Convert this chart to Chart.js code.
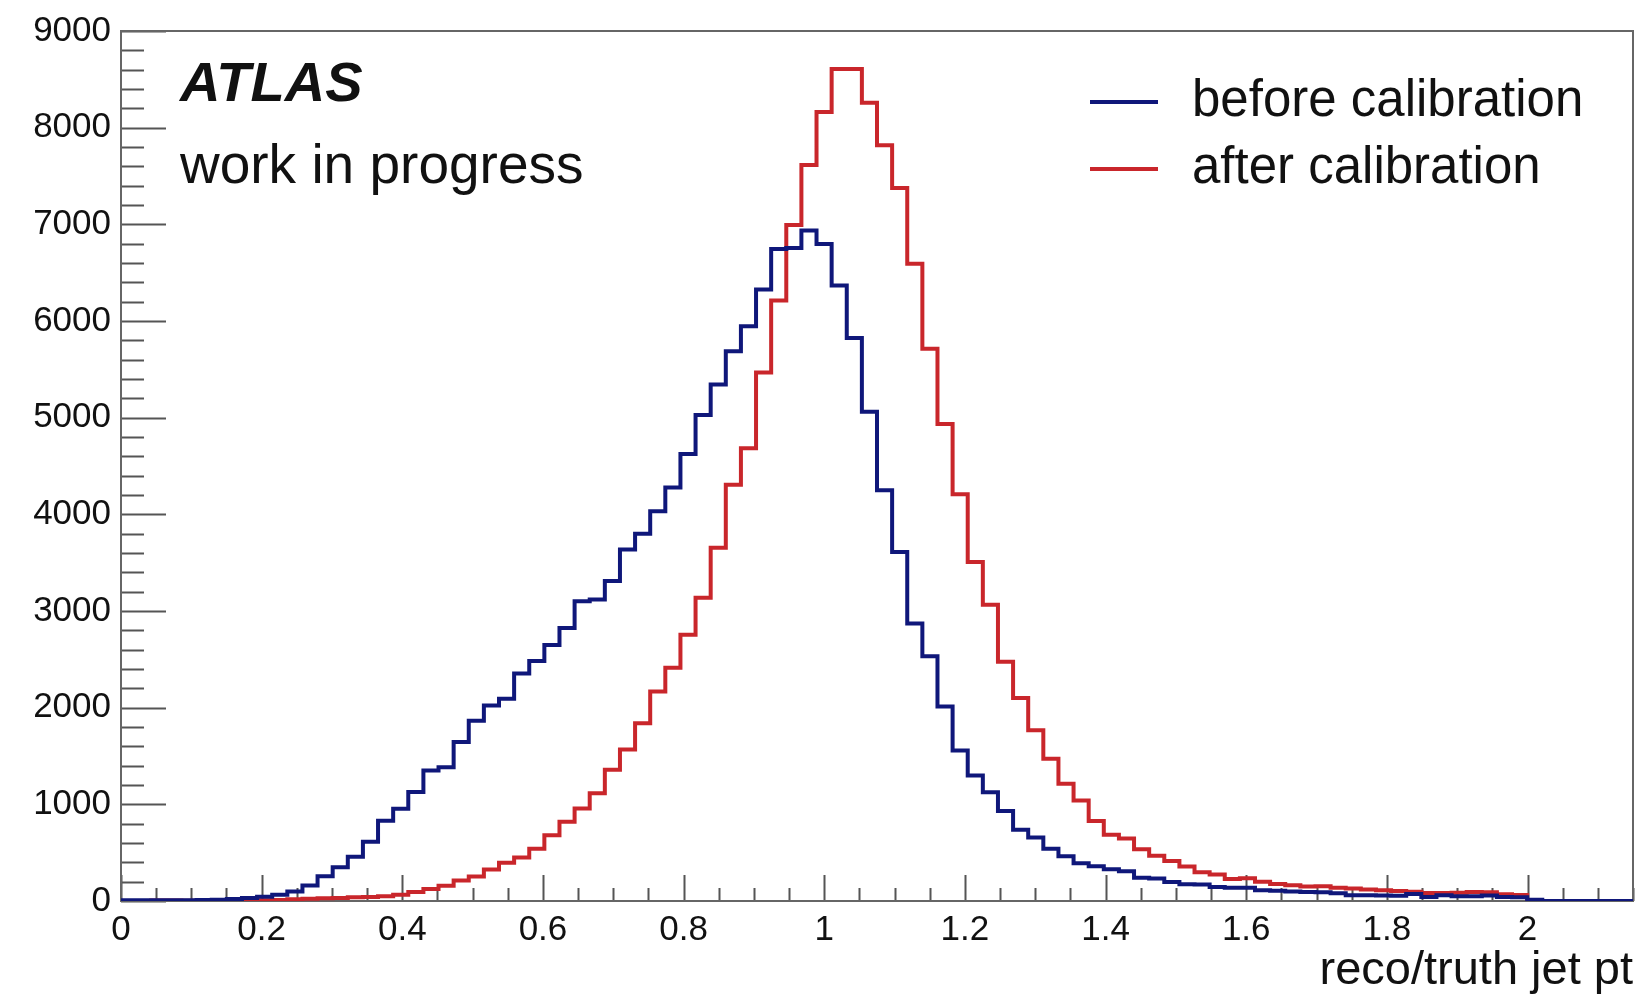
<!DOCTYPE html>
<html>
<head>
<meta charset="utf-8">
<title>reco/truth jet pt</title>
<script src="https://cdn.jsdelivr.net/npm/chart.js"></script>
<style>
  html, body { margin: 0; padding: 0; background: #fff; }
  #wrap { width: 1639px; height: 995px; }
</style>
</head>
<body>
<div id="wrap"><canvas id="chart"></canvas></div>
<script>
// 100 equal bins between 0 and 2.15
const binLow = 0;
const binHigh = 2.15;
const nBins = 100;

// entries per bin
const beforeCalibration = [
  8, 8, 8, 8, 8, 10, 12, 20, 30, 45,
  65, 98, 160, 255, 350, 457, 613, 830, 955, 1128,
  1350, 1383, 1645, 1865, 2022, 2091, 2353, 2482, 2649, 2823,
  3102, 3120, 3311, 3635, 3799, 4032, 4278, 4624, 5028, 5344,
  5687, 5945, 6326, 6746, 6756, 6935, 6797, 6368, 5825, 5062,
  4248, 3610, 2870, 2532, 2013, 1558, 1299, 1126, 931, 736,
  658, 541, 463, 390, 360, 328, 308, 240, 234, 197,
  172, 170, 145, 138, 137, 112, 105, 98, 94, 90,
  80, 60, 60, 58, 55, 72, 42, 60, 50, 48,
  56, 42, 40, 12, 0, 0, 0, 0, 0, 0
];
const afterCalibration = [
  0, 0, 5, 5, 3, 3, 3, 5, 5, 8,
  10, 18, 24, 28, 32, 38, 42, 50, 65, 92,
  125, 158, 212, 254, 327, 395, 450, 540, 680, 819,
  958, 1115, 1359, 1568, 1840, 2168, 2412, 2754, 3137, 3655,
  4306, 4684, 5467, 6213, 6993, 7615, 8161, 8608, 8608, 8258,
  7818, 7375, 6591, 5714, 4935, 4208, 3506, 3065, 2476, 2100,
  1766, 1472, 1212, 1039, 828, 685, 646, 535, 468, 413,
  357, 297, 275, 228, 235, 200, 177, 162, 150, 153,
  138, 129, 120, 110, 103, 96, 82, 82, 86, 93,
  91, 70, 63, 0, 0, 0, 0, 0, 0, 0
];

const xTicks = [0, 0.2, 0.4, 0.6, 0.8, 1, 1.2, 1.4, 1.6, 1.8, 2];
const yTicks = [0, 1000, 2000, 3000, 4000, 5000, 6000, 7000, 8000, 9000];

const FONT = "'Liberation Sans', Arial, Helvetica, sans-serif";
const BLUE = '#0f177a';
const RED = '#c9262b';

// turn bin contents into left-edge points plus a closing point at the upper edge
function histPoints(values) {
  const w = (binHigh - binLow) / nBins;
  const pts = values.map((v, i) => ({ x: binLow + i * w, y: v }));
  pts.push({ x: binHigh, y: values[values.length - 1] });
  return pts;
}

// frame with inward major/minor ticks, ROOT style
const frameTicks = {
  id: 'frameTicks',
  beforeDatasetsDraw(chart) {
    const { ctx, chartArea: a, scales: { x, y } } = chart;
    ctx.save();
    ctx.strokeStyle = '#555';
    ctx.lineWidth = 2;
    ctx.beginPath();
    for (let v = 0; v <= 9000; v += 200) {
      const py = Math.round(y.getPixelForValue(v)) + 0.5;
      const len = v % 1000 === 0 ? 45 : 23;
      ctx.moveTo(a.left, py);
      ctx.lineTo(a.left + len, py);
    }
    for (let k = 0; k * 0.05 <= binHigh + 1e-9; k++) {
      const px = Math.round(x.getPixelForValue(k * 0.05)) + 0.5;
      const len = k % 4 === 0 ? 26 : 13;
      ctx.moveTo(px, a.bottom);
      ctx.lineTo(px, a.bottom - len);
    }
    ctx.stroke();
    ctx.strokeStyle = '#666';
    ctx.strokeRect(a.left, a.top, a.right - a.left, a.bottom - a.top);
    ctx.restore();
  }
};

// labels and legend inside the frame
const overlay = {
  id: 'overlay',
  afterDraw(chart) {
    const { ctx, chartArea: a } = chart;
    ctx.save();
    ctx.fillStyle = '#111';
    ctx.textBaseline = 'alphabetic';
    ctx.textAlign = 'left';
    ctx.font = 'italic bold 56px ' + FONT;
    ctx.fillText('ATLAS', a.left + 59, 101);
    ctx.font = '55px ' + FONT;
    ctx.fillText('work in progress', a.left + 59, 183);

    ctx.font = '51px ' + FONT;
    ctx.textBaseline = 'middle';
    chart.data.datasets.forEach((ds, i) => {
      const ly = 102 + i * 67;
      ctx.strokeStyle = ds.borderColor;
      ctx.lineWidth = 4;
      ctx.beginPath();
      ctx.moveTo(1090, ly);
      ctx.lineTo(1158, ly);
      ctx.stroke();
      ctx.fillText(ds.label, 1192, ly);
    });
    ctx.restore();
  }
};

new Chart(document.getElementById('chart'), {
  type: 'line',
  data: {
    datasets: [
      {
        label: 'before calibration',
        data: histPoints(beforeCalibration),
        borderColor: BLUE,
        borderWidth: 4,
        stepped: 'before',
        pointRadius: 0,
        fill: false,
        order: 0
      },
      {
        label: 'after calibration',
        data: histPoints(afterCalibration),
        borderColor: RED,
        borderWidth: 4,
        stepped: 'before',
        pointRadius: 0,
        fill: false,
        order: 1
      }
    ]
  },
  options: {
    responsive: true,
    maintainAspectRatio: false,
    animation: false,
    layout: { padding: { top: 28, right: 6, left: 0, bottom: 0 } },
    plugins: {
      legend: { display: false },
      tooltip: { enabled: false }
    },
    scales: {
      x: {
        type: 'linear',
        min: binLow,
        max: binHigh,
        afterBuildTicks: (s) => { s.ticks = xTicks.map(v => ({ value: v })); },
        afterFit: (s) => { s.height = 94; },
        grid: { display: false, drawTicks: false },
        border: { display: false },
        ticks: {
          autoSkip: false,
          maxRotation: 0,
          includeBounds: false,
          padding: 8,
          color: '#111',
          font: { family: FONT, size: 35 },
          callback: (v) => String(+v.toFixed(1))
        },
        title: {
          display: true,
          text: 'reco/truth jet pt',
          align: 'end',
          color: '#111',
          font: { family: FONT, size: 47, lineHeight: 1 },
          padding: { top: 0, bottom: 0 }
        }
      },
      y: {
        min: 0,
        max: 9000,
        afterBuildTicks: (s) => { s.ticks = yTicks.map(v => ({ value: v })); },
        afterFit: (s) => { s.width = 121; },
        grid: { display: false, drawTicks: false },
        border: { display: false },
        ticks: {
          padding: 10,
          color: '#111',
          font: { family: FONT, size: 35 },
          callback: (v) => String(v)
        }
      }
    }
  },
  plugins: [frameTicks, overlay]
});
</script>
</body>
</html>
